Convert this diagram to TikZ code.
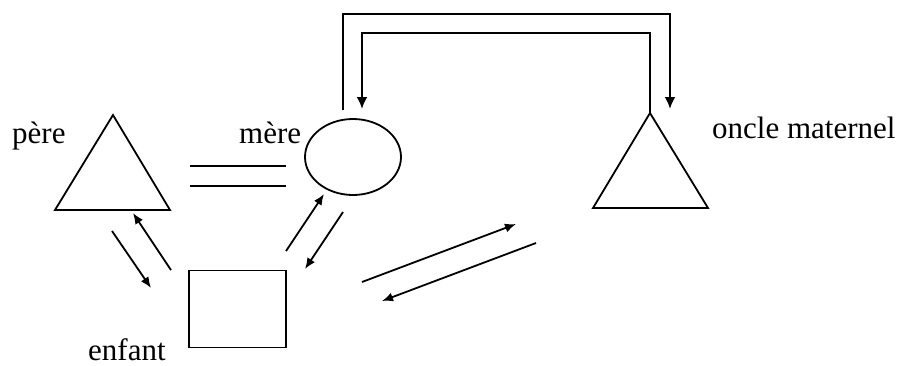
\documentclass[tikz,border=0pt]{standalone}
\usepackage{fontspec}
\setmainfont{Liberation Serif}
\usetikzlibrary{arrows.meta,shapes.geometric}

\begin{document}
\begin{tikzpicture}[x=1pt,y=-1pt]
\tikzstyle{every node}=[font=\fontsize{31}{37}\selectfont,inner sep=0pt]
\tikzstyle{sym}=[draw,line width=1.8pt]
\tikzstyle{link}=[line width=1.8pt,-{Latex[length=11pt,width=9pt]}]
\tikzstyle{bond}=[line width=2.4pt,-{Latex[length=12pt,width=11pt]}]
\useasboundingbox (0,0) rectangle (903,365);
% symboles
\draw[sym] (113,115) coordinate (pere) -- (55,210) -- (170,210) -- cycle;
\node[sym,ellipse,minimum width=96pt,minimum height=76pt] (mere) at (353,157) {};
\draw[sym] (650,113) coordinate (oncle) -- (593,208) -- (708,208) -- cycle;
\node[sym,rectangle,minimum width=97pt,minimum height=77pt] (enfant) at (237.7,309) {};
\draw[line width=2.2pt] (190,166) -- (286,166);
\draw[line width=2.2pt] (190,186) -- (286,186);
% etiquettes
\node[anchor=base west] (pere-l) at (12,143) {père};
\node[anchor=base west] (mere-l) at (239,143) {mère};
\node[anchor=base west] (oncle-l) at (712,138) {oncle maternel};
\node[anchor=base west] (enfant-l) at (88,360) {enfant};
% bouts des fleches
\coordinate (pe1) at (112,231); \coordinate (pe2) at (151,288);
\coordinate (ep1) at (171,270); \coordinate (ep2) at (133,213);
\coordinate (em1) at (286,251); \coordinate (em2) at (324,194);
\coordinate (me1) at (343,212); \coordinate (me2) at (305,269);
\coordinate (eo1) at (362,282); \coordinate (eo2) at (516,224);
\coordinate (oe1) at (536,243); \coordinate (oe2) at (382,301);
\coordinate (mo1) at (343,110); \coordinate (mo2) at (670,109);
\coordinate (om2) at (362,109);
\draw[link] (pe1) -- (pe2);
\draw[link] (ep1) -- (ep2);
\draw[link] (em1) -- (em2);
\draw[link] (me1) -- (me2);
\draw[link] (eo1) -- (eo2);
\draw[link] (oe1) -- (oe2);
\draw[bond] (mo1) -- (mo1 |- 0,14) -- (mo2 |- 0,14) -- (mo2);
\draw[bond] (oncle) -- (oncle |- 0,33) -- (om2 |- 0,33) -- (om2);
\end{tikzpicture}
\end{document}
